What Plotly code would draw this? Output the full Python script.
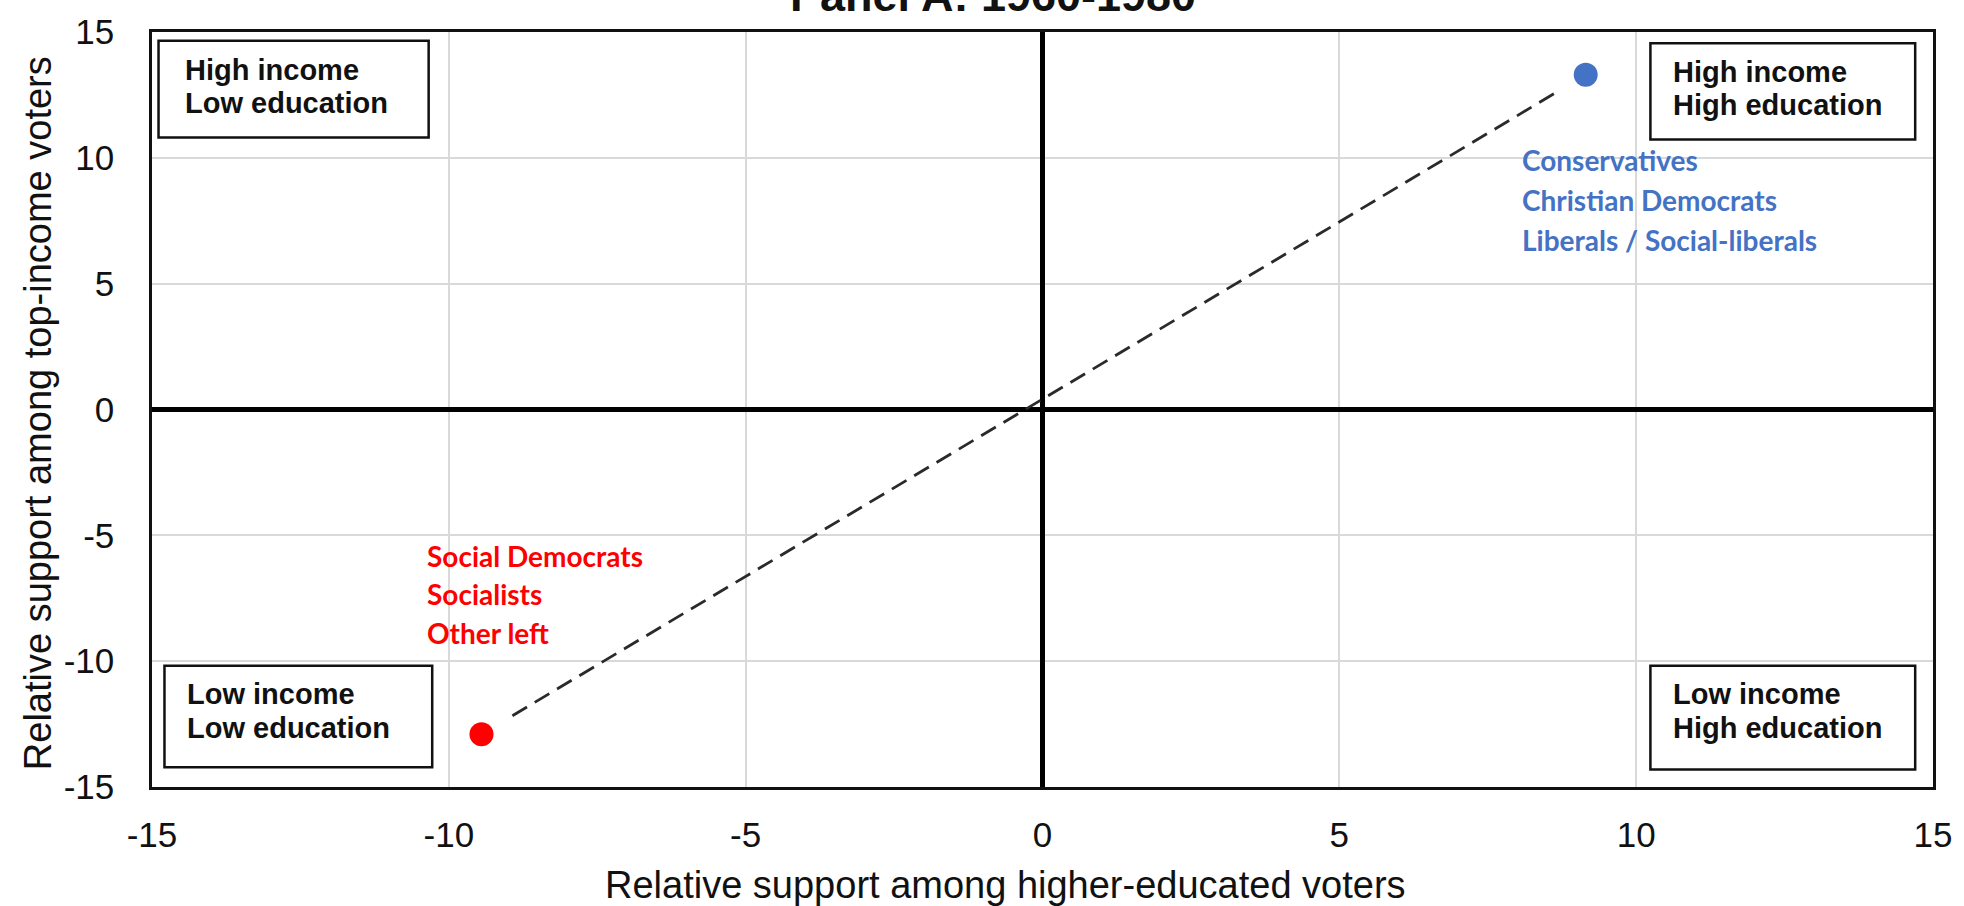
import plotly.graph_objects as go

# Party families: (relative support among higher-educated, among top-income)
families = ["Right", "Left"]
edu_support = [9.15, -9.45]
income_support = [13.3, -12.9]
family_colors = ["#4472C4", "#FF0000"]

right_labels = ["Conservatives", "Christian Democrats", "Liberals / Social-liberals"]
left_labels = ["Social Democrats", "Socialists", "Other left"]

quadrant_labels = {
    "tl": ["High income", "Low education"],
    "tr": ["High income", "High education"],
    "bl": ["Low income", "Low education"],
    "br": ["Low income", "High education"],
}

tick_vals = [-15, -10, -5, 0, 5, 10, 15]

AXIS_FONT = "Liberation Sans, Arial, sans-serif"
PARTY_FONT = "Lato, Carlito, Calibri, sans-serif"

fig = go.Figure()

# dashed line joining the two families, slightly trimmed at both ends
trim = 0.028
x0, x1 = edu_support[1], edu_support[0]
y0, y1 = income_support[1], income_support[0]
fig.add_trace(go.Scatter(
    x=[x0 + trim * (x1 - x0), x1 - trim * (x1 - x0)],
    y=[y0 + trim * (y1 - y0), y1 - trim * (y1 - y0)],
    mode="lines",
    line=dict(color="#2a2a2a", width=2.8, dash="17px,9px"),
    hoverinfo="skip", showlegend=False,
))

fig.add_trace(go.Scatter(
    x=edu_support, y=income_support, mode="markers",
    marker=dict(size=24, color=family_colors),
    text=families, showlegend=False,
))

# quadrant boxes
boxes = {
    "tl": (-14.89, 10.81, -10.34, 14.65),
    "tr": (10.24, 10.73, 14.70, 14.55),
    "bl": (-14.79, -14.22, -10.28, -10.18),
    "br": (10.24, -14.30, 14.70, -10.18),
}
for bx0, by0, bx1, by1 in boxes.values():
    fig.add_shape(type="rect", x0=bx0, y0=by0, x1=bx1, y1=by1,
                  line=dict(color="#111111", width=2.5), fillcolor="white", layer="above")

quad_text_pos = {
    "tl": (-14.47, [13.50, 12.16]),
    "tr": (10.59, [13.43, 12.08]),
    "bl": (-14.44, [-11.29, -12.67]),
    "br": (10.58, [-11.29, -12.67]),
}
annotations = []
for key, (tx, tys) in quad_text_pos.items():
    for line, ty in zip(quadrant_labels[key], tys):
        annotations.append(dict(
            x=tx, y=ty, xref="x", yref="y", text=f"<b>{line}</b>", showarrow=False,
            xanchor="left", yanchor="middle",
            font=dict(family=AXIS_FONT, size=29, color="#111111"),
        ))

for line, ty in zip(right_labels, [9.90, 8.32, 6.73]):
    annotations.append(dict(
        x=8.04, y=ty, xref="x", yref="y", text=f"<b>{line}</b>", showarrow=False,
        xanchor="left", yanchor="middle",
        font=dict(family=PARTY_FONT, size=28, color=family_colors[0]),
    ))
for line, ty in zip(left_labels, [-5.82, -7.33, -8.87]):
    annotations.append(dict(
        x=-10.40, y=ty, xref="x", yref="y", text=f"<b>{line}</b>", showarrow=False,
        xanchor="left", yanchor="middle",
        font=dict(family=PARTY_FONT, size=28, color=family_colors[1]),
    ))

# title (partly above the page) and axis titles
annotations.append(dict(
    x=0.472, y=1.0116, xref="paper", yref="paper", text="<b>Panel A: 1960-1980</b>",
    showarrow=False, xanchor="center", yanchor="bottom",
    font=dict(family=AXIS_FONT, size=45, color="#111111"),
))
annotations.append(dict(
    x=0.479, y=-0.1300, xref="paper", yref="paper",
    text="Relative support among higher-educated voters",
    showarrow=False, xanchor="center", yanchor="middle",
    font=dict(family=AXIS_FONT, size=38, color="#111111"),
))
annotations.append(dict(
    x=-0.0639, y=0.4954, xref="paper", yref="paper",
    text="Relative support among top-income voters", textangle=-90,
    showarrow=False, xanchor="center", yanchor="middle",
    font=dict(family=AXIS_FONT, size=38, color="#111111"),
))

axis_common = dict(
    range=[-15, 15], tickvals=tick_vals, ticktext=[str(v) for v in tick_vals],
    showgrid=True, gridcolor="#D9D9D9", gridwidth=1.5,
    zeroline=True, zerolinecolor="#000000", zerolinewidth=5,
    showline=True, linecolor="#111111", linewidth=2.5, mirror=True,
    ticks="", tickfont=dict(family=AXIS_FONT, size=35, color="#111111"),
    fixedrange=True,
)

fig.update_layout(
    width=1964, height=906,
    margin=dict(l=152, r=28, t=29, b=119),
    paper_bgcolor="white", plot_bgcolor="white",
    xaxis=dict(**axis_common, ticklabelstandoff=15),
    yaxis=dict(**axis_common, ticklabelstandoff=28),
    annotations=annotations,
    showlegend=False,
)

fig.write_html("out.html")
